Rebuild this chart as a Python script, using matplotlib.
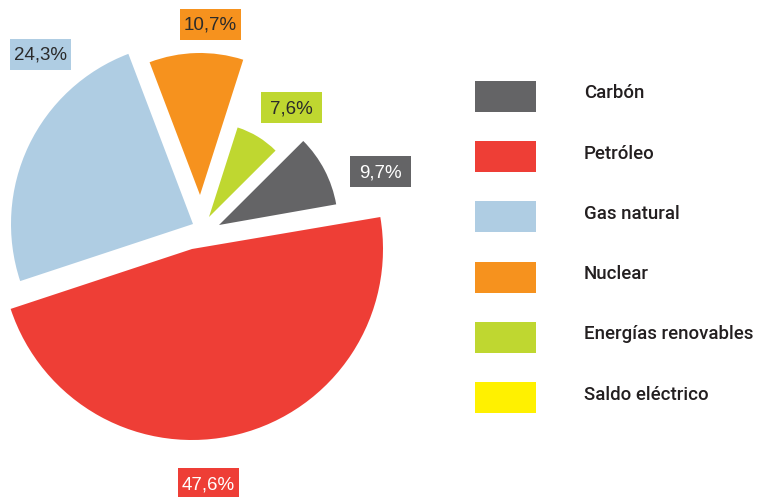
import numpy as np
import matplotlib.pyplot as plt
from matplotlib.patches import Wedge, Rectangle

# Consumo de energía primaria (%)
labels = ['Carbón', 'Petróleo', 'Gas natural', 'Nuclear', 'Energías renovables', 'Saldo eléctrico']
values = [9.7, 47.6, 24.3, 10.7, 7.6, 0.1]
value_labels = ['9,7%', '47,6%', '24,3%', '10,7%', '7,6%', '']
colors = ['#646466', '#ee3e36', '#afcde3', '#f6921e', '#bfd730', '#fff100']

# order in which the slices go round the pie (counter-clockwise from 10 deg)
pie_order = [0, 4, 3, 2, 1]
start_angle = 10

# styling of each slice: apex position (pixels, y down) and radius
apex = {0: (219, 225), 4: (209, 217), 3: (200, 195), 2: (193, 224), 1: (192, 249)}
radius = {0: 119, 4: 94, 3: 142, 2: 182, 1: 191}
# label boxes: left, top (pixels, y down)
label_box = {0: (350, 156), 4: (261, 92), 3: (180, 9), 2: (10, 39), 1: (178, 468)}
label_txt = {0: 'white', 4: '#2b2b2b', 3: '#2b2b2b', 2: '#2b2b2b', 1: 'white'}
box_w, box_h = 61, 31

W, H = 761, 497
fig = plt.figure(figsize=(W / 100, H / 100), dpi=100)
ax = fig.add_axes([0, 0, 1, 1])
ax.set_xlim(0, W)
ax.set_ylim(0, H)
ax.axis('off')

angle = start_angle
for i in pie_order:
    span = values[i] * 360 / 100
    cx, cy = apex[i]
    ax.add_patch(Wedge((cx, H - cy), radius[i], angle, angle + span,
                       facecolor=colors[i], edgecolor='none'))
    angle += span
    bx, by = label_box[i]
    ax.add_patch(Rectangle((bx, H - by - box_h), box_w, box_h,
                           facecolor=colors[i], edgecolor='none'))
    ax.text(bx + box_w / 2, H - by - box_h / 2 - 1, value_labels[i], ha='center', va='center',
            fontsize=13.5, family='Liberation Sans', color=label_txt[i])

# legend
for k, lab in enumerate(labels):
    y = 81 + k * 60.2
    ax.add_patch(Rectangle((475, H - y - 31), 61, 31, facecolor=colors[k], edgecolor='none'))
    ax.text(584, H - y - 12.5, lab, ha='left', va='center', fontsize=13.4,
            family='Roboto', fontweight='medium', color='#231f20')

fig.savefig('out.png', dpi=100)
